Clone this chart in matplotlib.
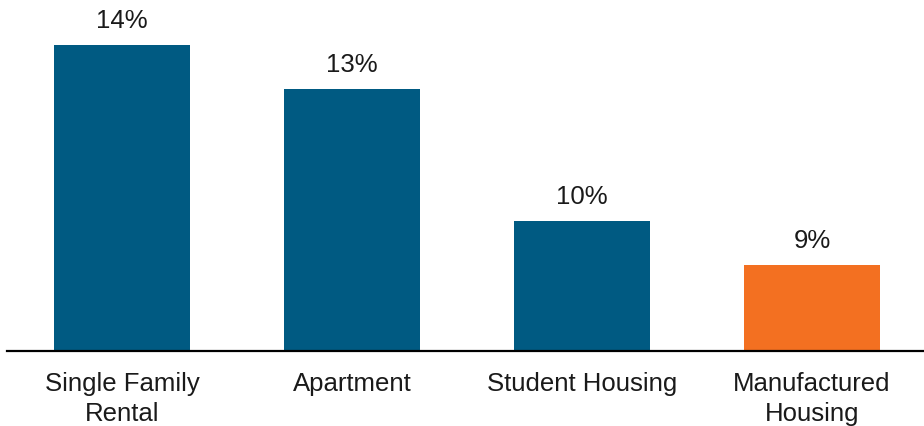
import numpy as np
import matplotlib.pyplot as plt

categories = ["Single Family\nRental", "Apartment", "Student Housing", "Manufactured\nHousing"]
values = [14, 13, 10, 9]
labels = ["14%", "13%", "10%", "9%"]
colors = ["#005a82", "#005a82", "#005a82", "#f37021"]

plt.rcParams['font.family'] = ['Liberation Sans', 'DejaVu Sans']

fig = plt.figure(figsize=(9.24, 4.26), dpi=100)
ax = fig.add_axes([7/924, 75/426, 920/924, 351/426])

x = np.arange(len(categories))
bars = ax.bar(x, values, width=0.587, color=colors, bottom=0)

for xi, v, lab in zip(x, values, labels):
    ax.annotate(lab, (xi, v), xytext=(0, 12.5), textcoords='offset points',
                ha='center', va='baseline', fontsize=18.5, color='#1a1a1a')

ax.set_xlim(-0.5, 3.5)
ax.set_ylim(7.05, 7.05 + 351/44)
ax.set_xticks(x)
ax.set_xticklabels(categories, fontsize=18.5, color='#1a1a1a', linespacing=1.3)
ax.tick_params(axis='x', length=0, pad=15)
ax.set_yticks([])
for s in ['top', 'right', 'left']:
    ax.spines[s].set_visible(False)
ax.spines['bottom'].set_linewidth(1.6)
ax.spines['bottom'].set_color('black')

fig.savefig('out.png', dpi=100)
